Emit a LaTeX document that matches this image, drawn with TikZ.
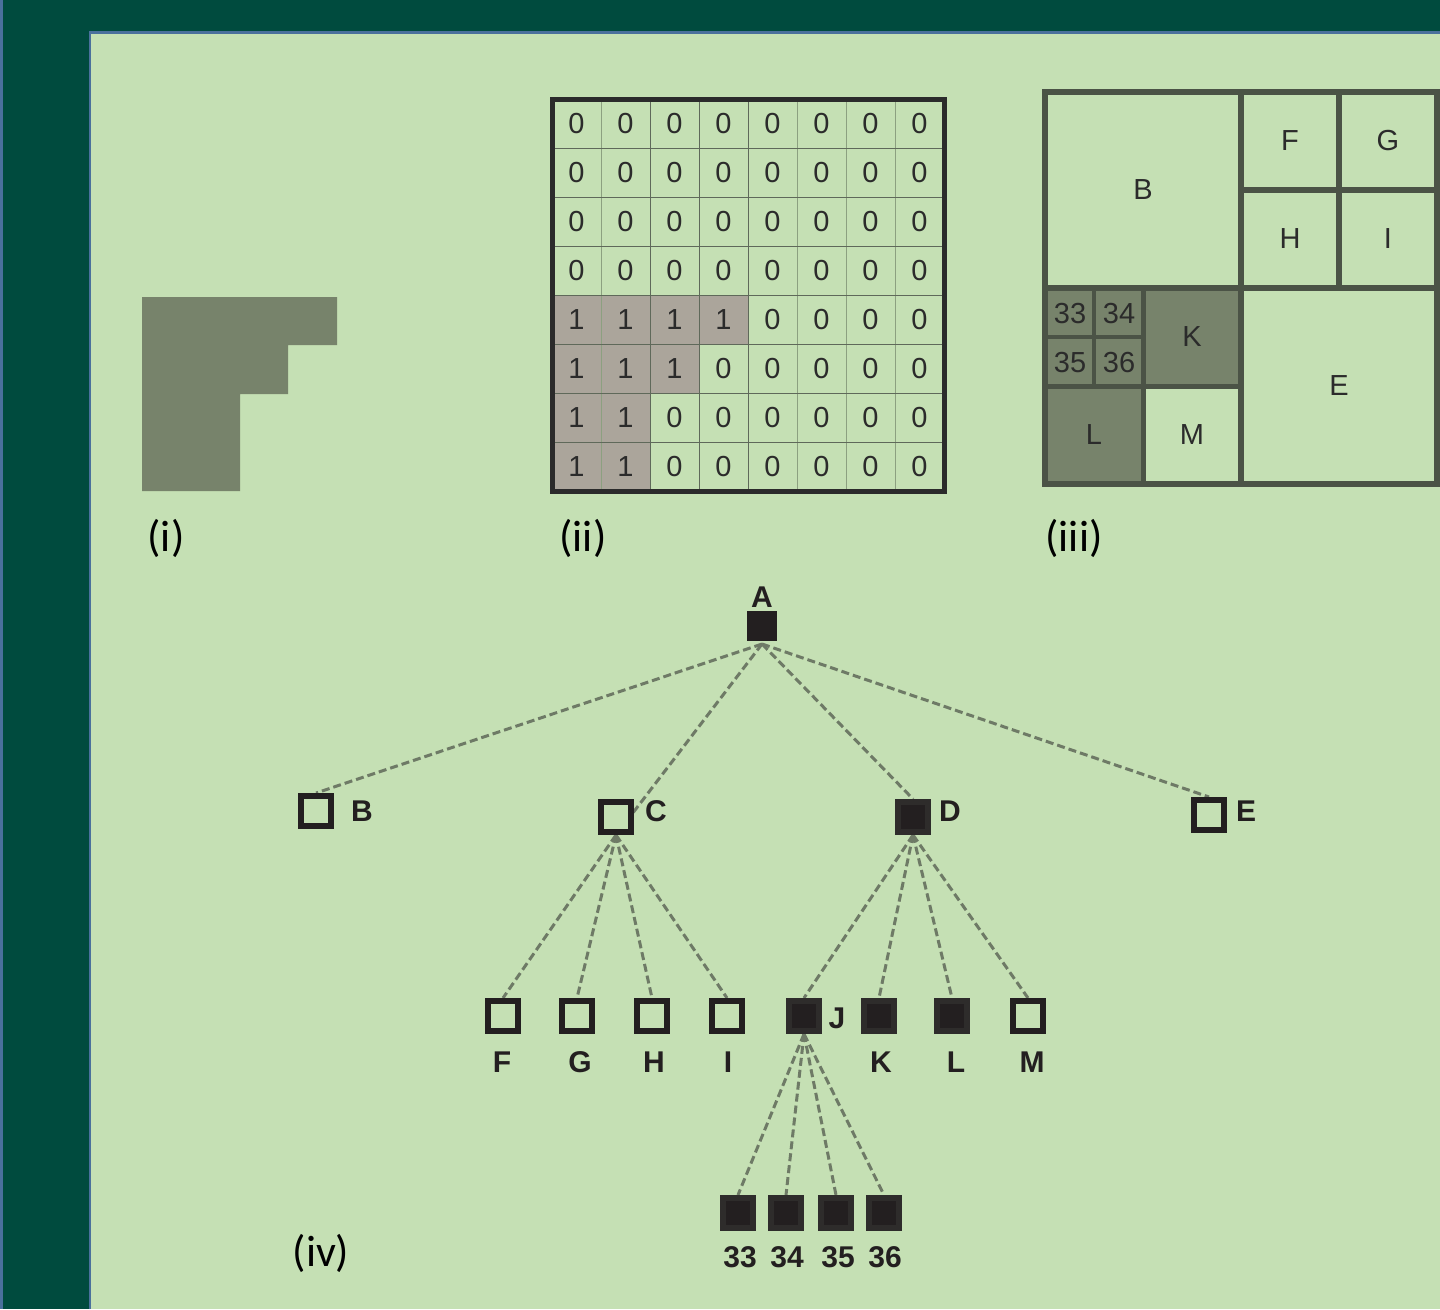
\documentclass[tikz,border=0pt]{standalone}
\usepackage{fontspec}
\setmainfont{Liberation Sans}
\newfontfamily\calfont{Carlito}
\definecolor{bgdark}{RGB}{0,75,62}
\definecolor{bluel}{RGB}{74,112,156}
\definecolor{panel}{RGB}{197,224,180}
\definecolor{shapefill}{RGB}{119,131,107}
\definecolor{cellsh}{RGB}{171,165,155}
\definecolor{ink}{RGB}{35,31,32}
\definecolor{nodeedge}{RGB}{46,44,43}
\definecolor{frameink}{RGB}{43,43,43}
\definecolor{qline}{RGB}{75,83,70}
\definecolor{edgecol}{RGB}{110,122,102}
\definecolor{thinline}{RGB}{95,105,90}
\definecolor{thinlight}{RGB}{140,160,128}
\pgfdeclarelayer{back}
\pgfdeclarelayer{edges}
\pgfsetlayers{back,edges,main}
\begin{document}
\begin{tikzpicture}[x=1pt,y=-1pt,
  digit/.style={inner sep=0, text=frameink, font=\fontsize{29}{29}\selectfont},
  qlab/.style={inner sep=0, text=frameink, font=\fontsize{29}{29}\selectfont},
  captxt/.style={inner sep=0, text=black, font=\calfont\fontsize{44}{44}\selectfont},
  openbox/.style={rectangle, draw=ink, line width=6pt, fill=panel, minimum size=30pt, inner sep=0},
  fullbox/.style={rectangle, draw=nodeedge, line width=6pt, fill=ink, minimum size=30pt, inner sep=0},
  tlab/.style={inner sep=0, text=ink, font=\fontsize{30}{30}\selectfont\bfseries},
  dashedge/.style={draw=edgecol, line width=3pt, dash pattern=on 8pt off 4pt}]
\useasboundingbox (0,0) rectangle (1440,1309);
\begin{pgfonlayer}{back}
\fill[bgdark] (0,0) rectangle (1440,1309);
\fill[bluel] (0,0) rectangle (3,1309);
\fill[panel] (89,31) rectangle (1440,1309);
\draw[bluel, line width=2.5pt] (90,1309) -- (90,32.5) -- (1440,32.5);
% (i)
\fill[shapefill] (142,297) -- (337,297) -- (337,345) -- (288,345) -- (288,394) -- (240,394) -- (240,491) -- (142,491) -- cycle;
% (ii)
\fill[cellsh] (552,295) rectangle (748,344);
\fill[cellsh] (552,344) rectangle (699,393);
\fill[cellsh] (552,393) rectangle (650,491);
\foreach \i in {1,5,6,7} {
  \draw[thinlight, line width=1pt] (552+49*\i,99) -- (552+49*\i,491);
}
\foreach \i in {2,3,4} {
  \draw[thinline, line width=1pt] (552+49*\i,99) -- (552+49*\i,491);
}
\foreach \i in {1,...,7} {
  \draw[thinline, line width=1pt] (552,99+49*\i) -- (944,99+49*\i);
}
\draw[frameink, line width=5pt] (552,99) rectangle (944,491);
% (iii)
\fill[shapefill] (1045,288) rectangle (1241,386);
\fill[shapefill] (1045,386) rectangle (1143,484);
\draw[qline, line width=5.5pt] (1045,92) rectangle (1437,484);
\draw[qline, line width=5.5pt] (1241,92) -- (1241,484);
\draw[qline, line width=5.5pt] (1045,288) -- (1437,288);
\draw[qline, line width=5.5pt] (1339,92) -- (1339,288);
\draw[qline, line width=5.5pt] (1241,190) -- (1437,190);
\draw[qline, line width=5pt] (1143,288) -- (1143,484);
\draw[qline, line width=5pt] (1045,386) -- (1241,386);
\draw[qline, line width=4pt] (1094,288) -- (1094,386);
\draw[qline, line width=4pt] (1045,337) -- (1143,337);
\end{pgfonlayer}
% grid digits
\foreach \row [count=\r from 0] in {{0,0,0,0,0,0,0,0},{0,0,0,0,0,0,0,0},{0,0,0,0,0,0,0,0},{0,0,0,0,0,0,0,0},{1,1,1,1,0,0,0,0},{1,1,1,0,0,0,0,0},{1,1,0,0,0,0,0,0},{1,1,0,0,0,0,0,0}} {
  \foreach \v [count=\c from 0] in \row {
    \node[digit] (g-\r-\c) at (576.5+49*\c,124+49*\r) {\v};
  }
}
% quadtree labels
\node[qlab] (qB) at (1143,190) {B};
\node[qlab] (qF) at (1290,141) {F};
\node[qlab] (qG) at (1388,141) {G};
\node[qlab] (qH) at (1290,239) {H};
\node[qlab] (qI) at (1388,239) {I};
\node[qlab] (qE) at (1339,386) {E};
\node[qlab] (qK) at (1192,337) {K};
\node[qlab] (qL) at (1094,435) {L};
\node[qlab] (qM) at (1192,435) {M};
\node[qlab] (q33) at (1070,314) {33};
\node[qlab] (q34) at (1119,314) {34};
\node[qlab] (q35) at (1070,363) {35};
\node[qlab] (q36) at (1119,363) {36};
% captions
\node[captxt] (c1) at (166,538) {(i)};
\node[captxt] (c2) at (583,538) {(ii)};
\node[captxt] (c3) at (1074,538) {(iii)};
\node[captxt] (c4) at (321,1253) {(iv)};
% tree nodes
\node[fullbox, draw=none, minimum size=30pt] (A) at (762,626) {};
\node[openbox] (B) at (316,811) {};
\node[openbox] (C) at (616,817) {};
\node[fullbox] (D) at (913,817) {};
\node[openbox] (E) at (1209,815) {};
\node[openbox] (F) at (503,1016) {};
\node[openbox] (G) at (577,1016) {};
\node[openbox] (H) at (652,1016) {};
\node[openbox] (I) at (727,1016) {};
\node[fullbox] (J) at (804,1016) {};
\node[fullbox] (K) at (879,1016) {};
\node[fullbox] (L) at (952,1016) {};
\node[openbox] (M) at (1028,1016) {};
\node[fullbox] (n33) at (738,1213) {};
\node[fullbox] (n34) at (786,1213) {};
\node[fullbox] (n35) at (836,1213) {};
\node[fullbox] (n36) at (884,1213) {};
% tree labels
\node[tlab] (lA) at (762,597) {A};
\node[tlab] (lB) at (362,811) {B};
\node[tlab] (lC) at (656,811) {C};
\node[tlab] (lD) at (950,811) {D};
\node[tlab] (lE) at (1246,811) {E};
\node[tlab] (lJ) at (837,1018) {J};
\node[tlab] (lF) at (502,1062) {F};
\node[tlab] (lG) at (580,1062) {G};
\node[tlab] (lH) at (654,1062) {H};
\node[tlab] (lI) at (728,1062) {I};
\node[tlab] (lK) at (881,1062) {K};
\node[tlab] (lL) at (956,1062) {L};
\node[tlab] (lM) at (1032,1062) {M};
\node[tlab] (l33) at (740,1257) {33};
\node[tlab] (l34) at (787,1257) {34};
\node[tlab] (l35) at (838,1257) {35};
\node[tlab] (l36) at (885,1257) {36};
% connectors
\begin{pgfonlayer}{edges}
\draw[dashedge] (A.south) -- (B.north);
\draw[dashedge] (A.south) -- (C.south);
\draw[dashedge] (A.south) -- (D.north);
\draw[dashedge] (A.south) -- (E.north);
\foreach \ch in {F,G,H,I} \draw[dashedge] (C.south) -- (\ch.north);
\foreach \ch in {J,K,L,M} \draw[dashedge] (D.south) -- (\ch.north);
\foreach \ch in {n33,n34,n35,n36} \draw[dashedge] (J.south) -- (\ch.north);
\end{pgfonlayer}
\end{tikzpicture}
\end{document}
